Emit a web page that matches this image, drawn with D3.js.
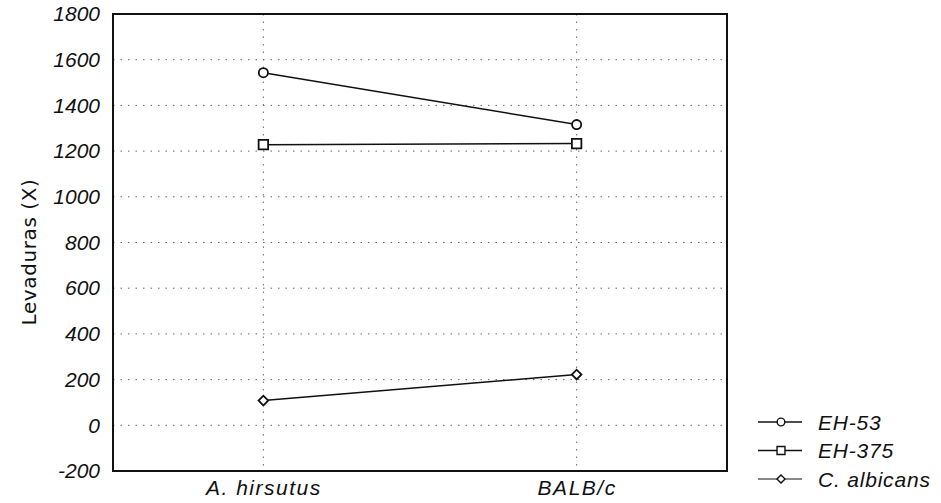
<!DOCTYPE html>
<html lang="es">
<head>
<meta charset="UTF-8">
<title>Levaduras</title>
<script src="https://d3js.org/d3.v7.min.js"></script>
<style>
  body { margin: 0; background: #fff; }
  text { font-family: "Liberation Sans", Arial, sans-serif; font-style: italic; fill: #111; }
</style>
</head>
<body>
<div id="chart"></div>
<script>
// datos
const categories = ["A. hirsutus", "BALB/c"];
const seriesNames = ["EH-53", "EH-375", "C. albicans"];
const eh53 = [1543, 1316];
const eh375 = [1228, 1233];
const calbicans = [108, 222];
const yTicks = [-200, 0, 200, 400, 600, 800, 1000, 1200, 1400, 1600, 1800];

const series = [
  { name: seriesNames[0], values: eh53, symbol: d3.symbolCircle, size: 66, rot: 0 },
  { name: seriesNames[1], values: eh375, symbol: d3.symbolSquare, size: 90, rot: 0 },
  { name: seriesNames[2], values: calbicans, symbol: d3.symbolSquare, size: 46, rot: 45 }
];

const W = 941, H = 503;
const margin = { top: 14, right: 214, bottom: 32, left: 113 };
const width = W - margin.left - margin.right;
const height = H - margin.top - margin.bottom;

const svg = d3.select("#chart").append("svg")
  .attr("width", W).attr("height", H);

const g = svg.append("g")
  .attr("transform", `translate(${margin.left},${margin.top})`);

const x = d3.scalePoint().domain(categories).range([0, width]).padding(0.48);
const y = d3.scaleLinear().domain([-200, 1800]).range([height, 0]);

// rejilla punteada
g.append("g").selectAll("line").data(yTicks.slice(1, -1)).join("line")
  .attr("x1", 0).attr("x2", width)
  .attr("y1", d => y(d)).attr("y2", d => y(d))
  .attr("stroke", "#666").attr("stroke-width", 1)
  .attr("stroke-dasharray", "1.5,6");

g.append("g").selectAll("line").data(categories).join("line")
  .attr("x1", d => x(d)).attr("x2", d => x(d))
  .attr("y1", 0).attr("y2", height)
  .attr("stroke", "#666").attr("stroke-width", 1)
  .attr("stroke-dasharray", "1.5,6");

// ejes
const yAxis = g.append("g")
  .call(d3.axisLeft(y).tickValues(yTicks).tickFormat(d => String(d)).tickSize(0).tickPadding(13));
yAxis.select(".domain").remove();
yAxis.selectAll("text").attr("font-size", 21).style("font-style", "italic");

const xAxis = g.append("g")
  .attr("transform", `translate(0,${height})`)
  .call(d3.axisBottom(x).tickSize(0).tickPadding(9));
xAxis.select(".domain").remove();
xAxis.selectAll("text").attr("font-size", 21).attr("letter-spacing", 1.5)
  .style("font-style", "italic");

// marco
g.append("rect")
  .attr("x", 0).attr("y", 0).attr("width", width).attr("height", height)
  .attr("fill", "none").attr("stroke", "#111").attr("stroke-width", 2);

// etiqueta eje y
svg.append("text")
  .attr("transform", "translate(36,252) rotate(-90)")
  .attr("text-anchor", "middle")
  .attr("font-size", 20)
  .attr("letter-spacing", 0.6)
  .style("font-style", "normal")
  .style("font-family", "'DejaVu Sans', sans-serif")
  .text("Levaduras (X)");

// líneas
const line = d3.line().x((d, i) => x(categories[i])).y(d => y(d));

series.forEach(s => {
  g.append("path")
    .datum(s.values)
    .attr("fill", "none").attr("stroke", "#111").attr("stroke-width", 1.5)
    .attr("d", line);
  g.selectAll(null).data(s.values).join("path")
    .attr("transform", (d, i) => `translate(${x(categories[i])},${y(d)}) rotate(${s.rot})`)
    .attr("d", d3.symbol().type(s.symbol).size(s.size))
    .attr("fill", "#fff").attr("stroke", "#111").attr("stroke-width", 1.8);
});

// leyenda
const legend = svg.append("g").attr("transform", "translate(758,422)");
series.forEach((s, i) => {
  const row = legend.append("g").attr("transform", `translate(0,${i * 28.5})`);
  row.append("line").attr("x1", 0).attr("x2", 44).attr("y1", 0).attr("y2", 0)
    .attr("stroke", "#111").attr("stroke-width", i === 2 ? 1 : 1.4);
  row.append("path")
    .attr("transform", `translate(23,0) rotate(${s.rot})`)
    .attr("d", d3.symbol().type(s.symbol).size(s.size * 0.7))
    .attr("fill", "#fff").attr("stroke", "#111").attr("stroke-width", 1.4);
  row.append("text").attr("x", 60).attr("y", 7.5)
    .attr("font-size", 21).attr("letter-spacing", 0.8).text(s.name);
});
</script>
</body>
</html>
